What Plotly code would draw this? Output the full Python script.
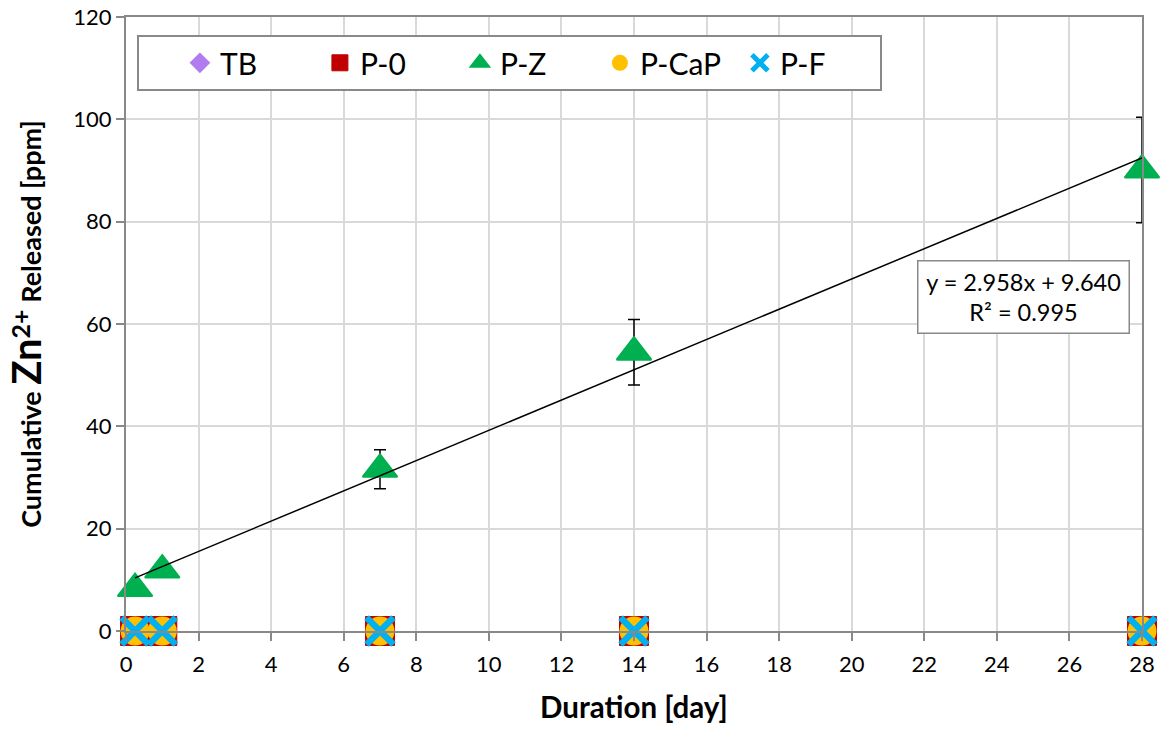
import plotly.graph_objects as go

# ---------------- data ----------------
days = [0.25, 1, 7, 14, 28]
tb = [0, 0, 0, 0, 0]
p0 = [0, 0, 0, 0, 0]
pz = [8.3, 11.9, 31.6, 54.5, 90.1]
pz_err = [0.6, 0.8, 3.8, 6.4, 10.3]
pcap = [0, 0, 0, 0, 0]
pf = [0, 0, 0, 0, 0]

fit_slope = 2.958
fit_intercept = 9.640
fit_r2 = 0.995

x_ticks = list(range(0, 29, 2))
y_ticks = list(range(0, 121, 20))

FONT = "Lato"
GRID = "#D9D9D9"
AXIS = "#898989"

fig = go.Figure()

fig.add_trace(go.Scatter(
    x=days, y=tb, name="TB", mode="markers", cliponaxis=False,
    marker=dict(symbol="diamond", size=22, color="#B07CF0"),
))
fig.add_trace(go.Scatter(
    x=days, y=p0, name="P-0", mode="markers", cliponaxis=False,
    marker=dict(symbol="square", size=29, color="#C00000",
                line=dict(color="#C00000", width=1)),
))
fig.add_trace(go.Scatter(
    x=days, y=pz, name="P-Z", mode="markers", cliponaxis=False,
    marker=dict(symbol="triangle-up", size=30, color="#00B050",
                line=dict(color="#00B050", width=2)),
    error_y=dict(type="data", array=pz_err, visible=True,
                 color="black", thickness=1.5, width=6),
))
fig.add_trace(go.Scatter(
    x=days, y=pcap, name="P-CaP", mode="markers", cliponaxis=False,
    marker=dict(symbol="circle", size=29, color="#FFC000"),
))
fig.add_trace(go.Scatter(
    x=days, y=pf, name="P-F", mode="markers", cliponaxis=False,
    marker=dict(symbol="x-thin", size=27, color="#00B0F0",
                line=dict(color="#00B0F0", width=6.5)),
))

# linear trendline for P-Z
fit_x = [days[0], days[-1]]
fit_y = [fit_slope * v + fit_intercept for v in fit_x]
fig.add_trace(go.Scatter(
    x=fit_x, y=fit_y, mode="lines", showlegend=False, hoverinfo="skip",
    line=dict(color="black", width=1.5),
))

fig.add_annotation(
    xref="paper", yref="paper", x=0.883, y=0.544,
    xanchor="center", yanchor="middle",
    text=f"y = {fit_slope:.3f}x + {fit_intercept:.3f}<br>R² = {fit_r2:.3f}",
    showarrow=False, align="center",
    font=dict(family=FONT, size=23.5, color="black"),
    bgcolor="white", bordercolor=AXIS, borderwidth=1.5, borderpad=6,
    width=198,
)

fig.update_layout(
    width=1160, height=729,
    margin=dict(l=126, r=18, t=17, b=98),
    paper_bgcolor="white", plot_bgcolor="white",
    font=dict(family=FONT, color="black"),
    showlegend=True,
    legend=dict(
        orientation="h", x=0.011, y=0.971, xanchor="left", yanchor="top",
        font=dict(family=FONT, size=30, color="black"),
        bordercolor=AXIS, borderwidth=2, bgcolor="white",
        entrywidth=95, entrywidthmode="pixels",
        itemsizing="trace",
        title=dict(text="\u00a0" * 4, side="left",
                   font=dict(family=FONT, size=30, color="black")),
    ),
    xaxis=dict(
        range=[0, 28], tickvals=x_ticks, ticktext=[str(v) for v in x_ticks],
        showgrid=True, gridcolor=GRID, gridwidth=1.5,
        showline=True, linecolor=AXIS, linewidth=2, mirror=True,
        ticks="outside", ticklen=8, tickcolor=AXIS, tickwidth=1.5,
        ticklabelstandoff=5,
        tickfont=dict(family=FONT, size=22, color="black"),
        zeroline=False,
        title=dict(text="<b>Duration [day]</b>", standoff=21,
                   font=dict(family=FONT, size=29.5, color="black")),
    ),
    yaxis=dict(
        range=[0, 120], tickvals=y_ticks, ticktext=[str(v) for v in y_ticks],
        showgrid=True, gridcolor=GRID, gridwidth=1.5,
        showline=True, linecolor=AXIS, linewidth=2, mirror=True,
        ticks="outside", ticklen=8, tickcolor=AXIS, tickwidth=1.5,
        tickfont=dict(family=FONT, size=22, color="black"),
        zeroline=False,
        title=dict(
            text="<b>Cumulative <span style='font-size:40px'>Zn</span>"
                 "<sup><span style='font-size:25px'>2+</span></sup> Released [ppm]</b>",
            standoff=24,
            font=dict(family=FONT, size=27, color="black")),
    ),
)

fig.update_xaxes(automargin=False)
fig.update_yaxes(automargin=False)

fig.write_html("out.html")
